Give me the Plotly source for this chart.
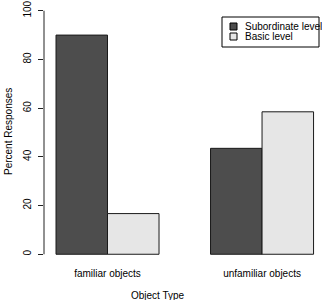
import plotly.graph_objects as go

categories = ["familiar objects", "unfamiliar objects"]
series_names = ["Subordinate level", "Basic level"]
subordinate = [90.0, 43.5]
basic = [16.7, 58.5]
y_ticks = [0, 20, 40, 60, 80, 100]

colors = ["#4d4d4d", "#e6e6e6"]
FONT = "Liberation Sans, Arial, sans-serif"

W, H = 322, 300
L, R, T, B = 44, 0, 1, 36
PW, PH = W - L - R, H - T - B


def px(x):
    return (x - L) / PW


def py(y):
    return (H - B - y) / PH


fig = go.Figure()
for name, vals, col in zip(series_names, [subordinate, basic], colors):
    fig.add_trace(go.Bar(
        x=categories, y=vals, name=name,
        marker=dict(color=col, line=dict(color="#1a1a1a", width=1)),
        showlegend=False,
    ))

fig.update_layout(
    width=W, height=H,
    margin=dict(l=L, r=R, t=T, b=B),
    paper_bgcolor="white", plot_bgcolor="white",
    barmode="group", bargap=1/3, bargroupgap=0,
    font=dict(family=FONT, size=10, color="#000"),
    xaxis=dict(range=[-0.411, 1.388], showline=False, showgrid=False,
               zeroline=False, ticks="", tickfont=dict(size=10),
               ticklabelstandoff=2),
    yaxis=dict(range=[-4, 104], tickvals=y_ticks, ticks="outside",
               ticklen=5, tickwidth=1, tickcolor="#222",
               showline=False, showgrid=False, zeroline=False,
               tickangle=-90, tickfont=dict(size=10), ticklabelstandoff=3),
)

# R-style axis line spanning the tick range only
fig.add_shape(type="line", xref="paper", yref="y", x0=0, x1=0,
              y0=y_ticks[0], y1=y_ticks[-1], line=dict(color="#222", width=1))

# axis titles
fig.add_annotation(text="Object Type", xref="paper", yref="paper",
                   x=px(158), y=py(295), showarrow=False,
                   font=dict(size=10), xanchor="center", yanchor="middle")
fig.add_annotation(text="Percent Responses", xref="paper", yref="paper",
                   x=px(8), y=py(132), showarrow=False, textangle=-90,
                   font=dict(size=10), xanchor="center", yanchor="middle")

# legend (R style box)
fig.add_shape(type="rect", xref="paper", yref="paper",
              x0=px(222), x1=px(319), y0=py(17), y1=py(47),
              line=dict(color="#000", width=1), fillcolor="white")
for i, (name, col) in enumerate(zip(series_names, colors)):
    yc = 26.5 + 10 * i
    fig.add_shape(type="rect", xref="paper", yref="paper",
                  x0=px(230), x1=px(237), y0=py(yc - 3.5), y1=py(yc + 3.5),
                  line=dict(color="#000", width=1), fillcolor=col)
    fig.add_annotation(text=name, xref="paper", yref="paper",
                       x=px(243), y=py(yc), showarrow=False,
                       xanchor="left", yanchor="middle", font=dict(size=10))

fig.write_html("out.html")
